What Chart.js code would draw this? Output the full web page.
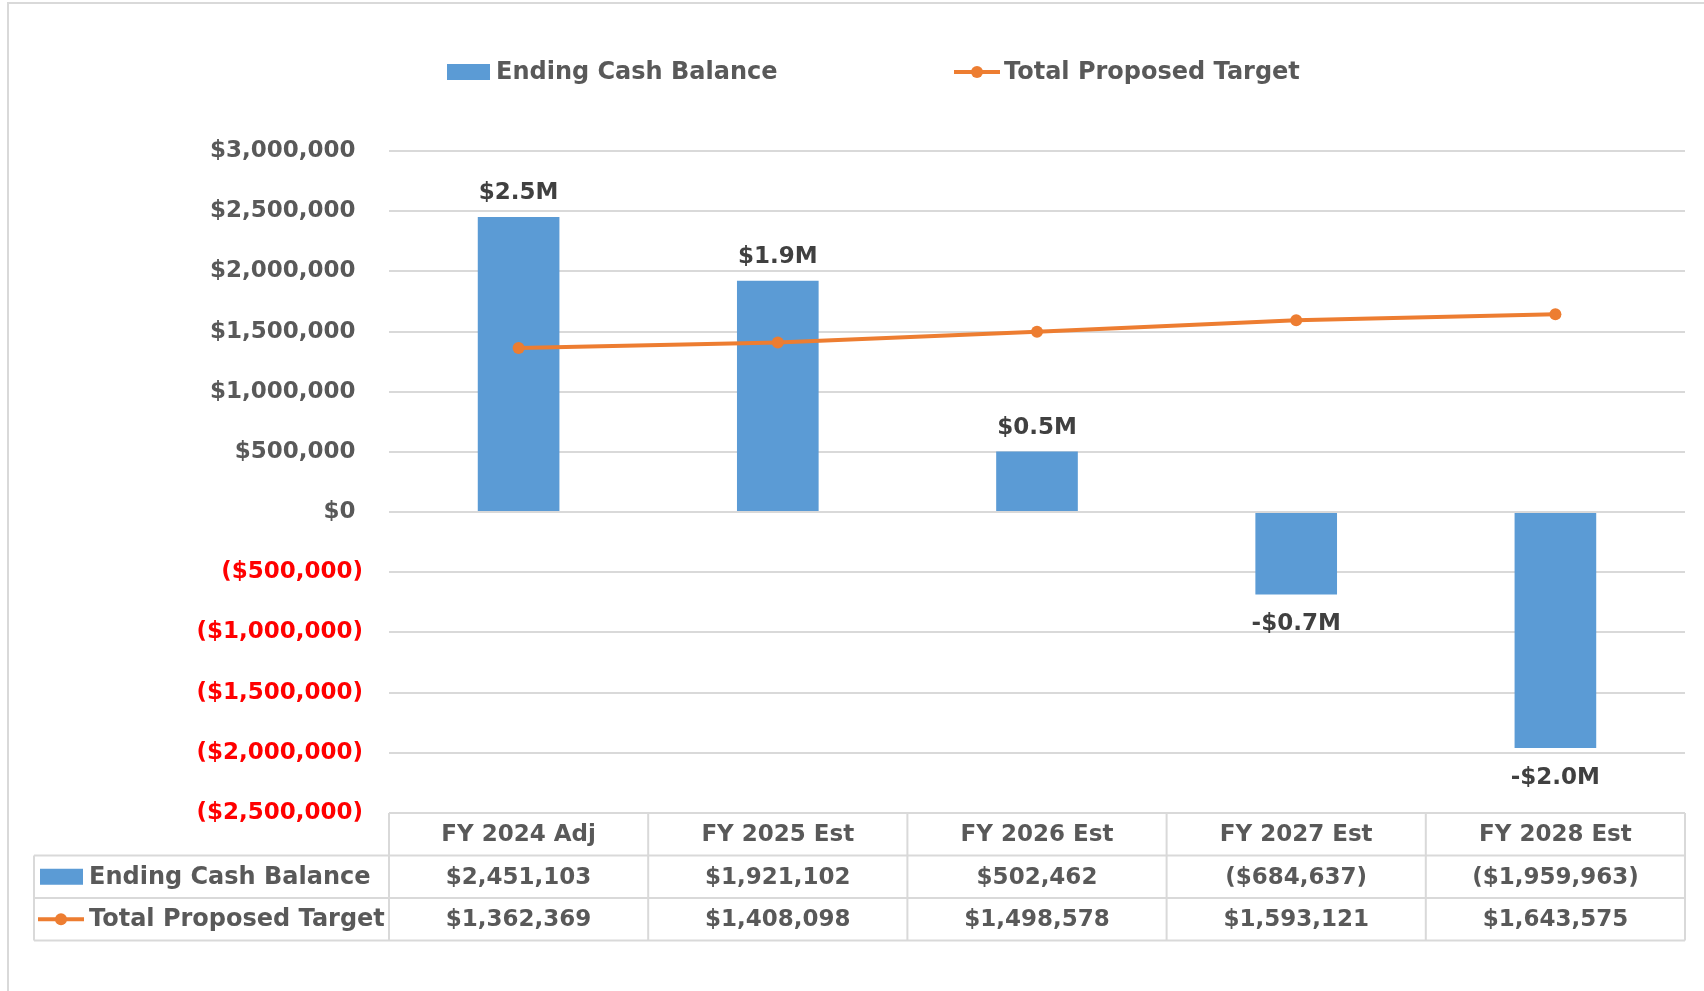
<!DOCTYPE html>
<html>
<head>
<meta charset="utf-8">
<title>Ending Cash Balance vs Total Proposed Target</title>
<script src="https://cdn.jsdelivr.net/npm/chart.js@4.4.1/dist/chart.umd.min.js"></script>
<style>
  html, body { margin: 0; padding: 0; background: #ffffff; }
  #wrap { width: 1704px; height: 991px; }
</style>
</head>
<body>
<div id="wrap"><canvas id="cashChart" width="1704" height="991"></canvas></div>
<script>
var years = ["FY 2024 Adj", "FY 2025 Est", "FY 2026 Est", "FY 2027 Est", "FY 2028 Est"];
var endingCash = [2451103, 1921102, 502462, -684637, -1959963];
var proposedTarget = [1362369, 1408098, 1498578, 1593121, 1643575];
var seriesNames = ["Ending Cash Balance", "Total Proposed Target"];

var BLUE = "#5B9BD5";
var ORANGE = "#ED7D31";
var GRID = "#D9D9D9";
var TEXT = "#595959";
var FONT = "bold 23px 'DejaVu Sans'";
var KEY_FONT = "bold 24px 'DejaVu Sans'";

// $1,234,567 or ($1,234,567) like the Excel number format
function money(v) {
    var s = "$" + Math.abs(v).toLocaleString("en-US");
    return v < 0 ? "(" + s + ")" : s;
}

// little legend symbols, reused in the legend and the data table
function drawBarKey(ctx, x, y) {
    ctx.fillStyle = BLUE;
    ctx.fillRect(x, y - 8, 43, 16);
}
function drawLineKey(ctx, x, y) {
    ctx.strokeStyle = ORANGE;
    ctx.lineWidth = 4;
    ctx.beginPath();
    ctx.moveTo(x, y);
    ctx.lineTo(x + 46, y);
    ctx.stroke();
    ctx.fillStyle = ORANGE;
    ctx.beginPath();
    ctx.arc(x + 23, y, 6, 0, Math.PI * 2);
    ctx.fill();
}

var extras = {
    id: "extras",
    afterDraw: function (chart) {
        var ctx = chart.ctx;
        var area = chart.chartArea;
        var xs = chart.scales.x;
        ctx.save();

        // outer frame (top and left edge only are visible)
        ctx.strokeStyle = GRID;
        ctx.lineWidth = 2;
        ctx.beginPath();
        ctx.moveTo(8, 991);
        ctx.lineTo(8, 3);
        ctx.lineTo(1704, 3);
        ctx.stroke();

        // legend
        ctx.font = KEY_FONT;
        ctx.textBaseline = "middle";
        ctx.textAlign = "left";
        drawBarKey(ctx, 447, 72);
        ctx.fillStyle = TEXT;
        ctx.fillText(seriesNames[0], 496, 73);
        drawLineKey(ctx, 954, 72);
        ctx.fillStyle = TEXT;
        ctx.fillText(seriesNames[1], 1004, 73);

        // value labels on the bars
        ctx.font = FONT;
        var meta = chart.getDatasetMeta(1);
        ctx.fillStyle = "#404040";
        ctx.textAlign = "center";
        meta.data.forEach(function (bar, i) {
            var v = endingCash[i];
            var txt = (v < 0 ? "-$" : "$") + (Math.abs(v) / 1e6).toFixed(1) + "M";
            var y = v < 0 ? bar.y + 30 : bar.y - 24;
            ctx.fillText(txt, bar.x, y);
        });

        // data table under the plot
        var colW = xs.width / years.length;
        var top = area.bottom;
        var rowH = 42.5;
        var labelLeft = 34;
        ctx.strokeStyle = GRID;
        ctx.lineWidth = 2;
        ctx.beginPath();
        ctx.moveTo(xs.left, top);
        ctx.lineTo(xs.right, top);
        for (var r = 1; r <= 3; r++) {
            ctx.moveTo(labelLeft, top + r * rowH);
            ctx.lineTo(xs.right, top + r * rowH);
        }
        for (var c = 0; c <= years.length; c++) {
            ctx.moveTo(xs.left + c * colW, top);
            ctx.lineTo(xs.left + c * colW, top + 3 * rowH);
        }
        ctx.moveTo(labelLeft, top + rowH);
        ctx.lineTo(labelLeft, top + 3 * rowH);
        ctx.stroke();

        ctx.fillStyle = TEXT;
        ctx.textAlign = "center";
        years.forEach(function (yr, i) {
            var cx = xs.getPixelForValue(i);
            ctx.fillText(yr, cx, top + rowH * 0.5 + 1);
            ctx.fillText(money(endingCash[i]), cx, top + rowH * 1.5 + 1);
            ctx.fillText(money(proposedTarget[i]), cx, top + rowH * 2.5 + 1);
        });

        ctx.textAlign = "left";
        ctx.font = KEY_FONT;
        drawBarKey(ctx, 40, top + rowH * 1.5);
        drawLineKey(ctx, 38, top + rowH * 2.5);
        ctx.fillStyle = TEXT;
        ctx.fillText(seriesNames[0], 89, top + rowH * 1.5 + 1);
        ctx.fillText(seriesNames[1], 89, top + rowH * 2.5 + 1);

        ctx.restore();
    }
};

var chart = new Chart(document.getElementById("cashChart").getContext("2d"), {
    type: "bar",
    data: {
        labels: years,
        datasets: [
            {
                type: "line",
                label: seriesNames[1],
                data: proposedTarget,
                borderColor: ORANGE,
                backgroundColor: ORANGE,
                borderWidth: 4,
                pointRadius: 6,
                pointBorderWidth: 0,
                pointBackgroundColor: ORANGE,
                tension: 0,
                order: 0
            },
            {
                type: "bar",
                label: seriesNames[0],
                data: endingCash,
                backgroundColor: BLUE,
                barPercentage: 0.315,
                categoryPercentage: 1,
                order: 1
            }
        ]
    },
    options: {
        responsive: false,
        animation: false,
        devicePixelRatio: 1,
        layout: {
            padding: { top: 151, bottom: 178, left: 0, right: 19 }
        },
        plugins: {
            legend: { display: false },
            tooltip: { enabled: false }
        },
        scales: {
            x: {
                display: false,
                offset: true
            },
            y: {
                min: -2500000,
                max: 3000000,
                border: { display: false },
                grid: { color: GRID, lineWidth: 2, drawTicks: false },
                afterFit: function (scale) { scale.width = 389; }, // plot starts at x=389
                ticks: {
                    stepSize: 500000,
                    padding: 26,
                    font: { family: "DejaVu Sans", size: 23, weight: "bold" },
                    color: function (c) { return c.tick.value < 0 ? "#FF0000" : TEXT; },
                    callback: function (v) {
                        // positives get a trailing space about the width of ")" so digits line up
                        return v < 0 ? money(v) : money(v) + "\u2004";
                    }
                }
            }
        }
    },
    plugins: [extras]
});
</script>
</body>
</html>
